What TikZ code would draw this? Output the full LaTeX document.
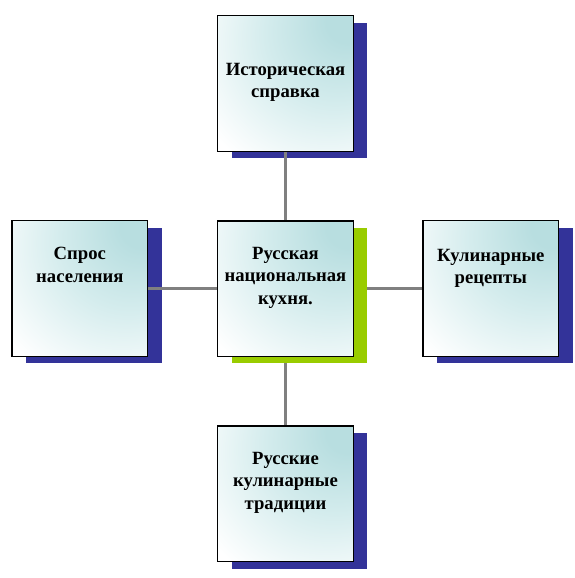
\documentclass[tikz,border=0pt]{standalone}
\usepackage{fontspec}
\setmainfont{Liberation Serif}
\usetikzlibrary{shadows}
\definecolor{shblue}{HTML}{333399}
\definecolor{shgreen}{HTML}{99CC00}
\definecolor{tealtop}{HTML}{B8DEE0}
\definecolor{tealmid}{HTML}{D4ECED}
\definecolor{linegrey}{HTML}{808080}
\pgfdeclareradialshading{cornerglow}{\pgfpoint{25bp}{25bp}}{%
  color(0bp)=(tealtop); color(8bp)=(tealtop); color(26bp)=(tealmid); color(50bp)=(white); color(100bp)=(white)}
\tikzset{
  box/.style={draw=black, line width=1.3pt, minimum width=135.5pt, minimum height=135.5pt, inner sep=0pt,
    shading=cornerglow},
  blueshadow/.style={drop shadow={shadow xshift=14pt, shadow yshift=-7pt, fill=shblue, opacity=1}},
  greenshadow/.style={drop shadow={shadow xshift=14pt, shadow yshift=-7pt, fill=shgreen, opacity=1}},
  lbl/.style={anchor=north, inner sep=0pt, align=center, font=\fontsize{18.67pt}{22.5pt}\selectfont\bfseries},
  conn/.style={draw=linegrey, line width=3pt}
}
\begin{document}
\begin{tikzpicture}[x=1pt,y=-1pt]
\useasboundingbox (0,0) rectangle (575,578);
% boxes
\node[box, blueshadow] (top) at (285.5,83.6) {};
\node[box, blueshadow] (left) at (79.8,288.5) {};
\node[box, blueshadow] (right) at (490.8,288.5) {};
\node[box, blueshadow] (bottom) at (285.5,493.8) {};
% connectors
\draw[conn] (top.south) -- (bottom.north);
\draw[conn] (left.east) -- (right.west);
\node[box, greenshadow] (center) at (285.5,288.6) {};
% labels
\node[lbl] (ttop) at (285.5,63) {Историческая\\справка};
\node[lbl] (tcenter) at (285.5,247) {Русская\\национальная\\кухня.};
\node[lbl] (tleft) at (79.8,247) {Спрос\\населения};
\node[lbl] (tright) at (490.8,249) {Кулинарные\\рецепты};
\node[lbl] (tbottom) at (285.5,452) {Русские\\кулинарные\\традиции};
\end{tikzpicture}
\end{document}
